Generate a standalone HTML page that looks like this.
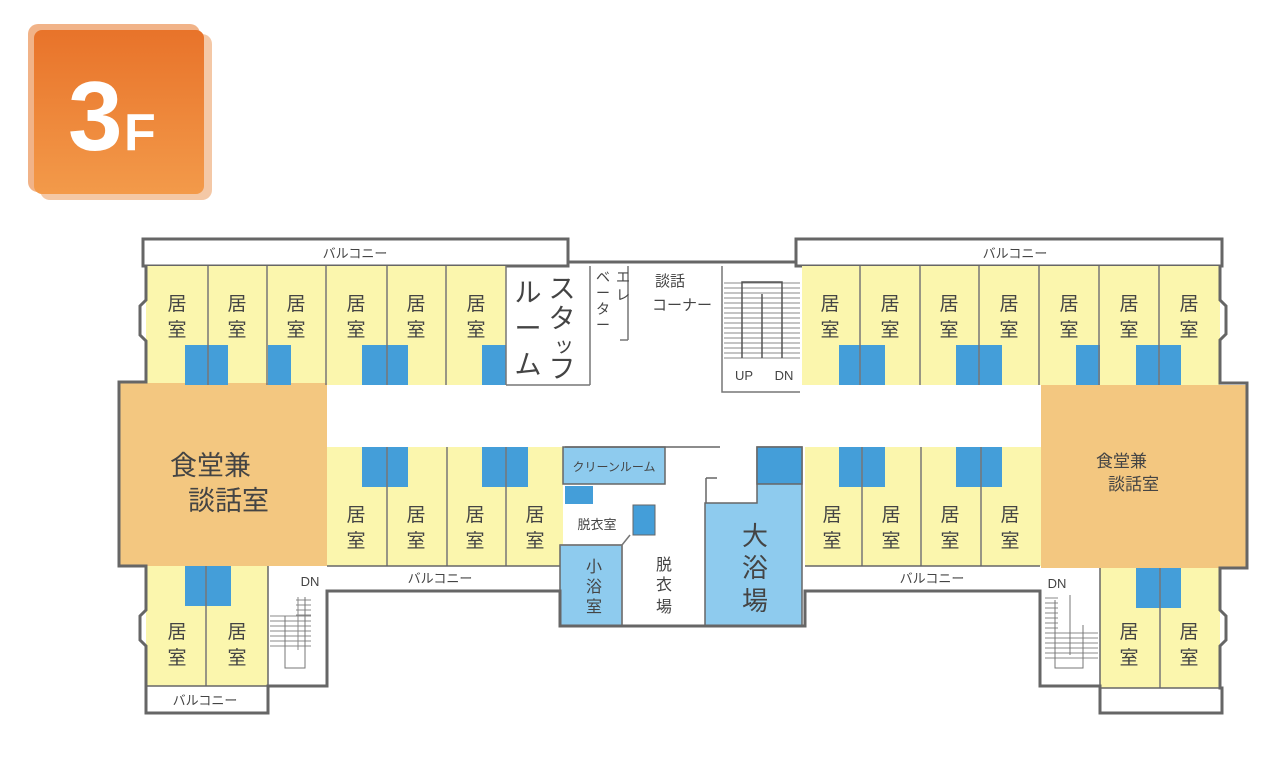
<!DOCTYPE html>
<html><head><meta charset="utf-8"><style>
html,body{margin:0;padding:0;background:#fff;width:1278px;height:768px;overflow:hidden}
svg{display:block}
text{font-family:"Liberation Sans","Noto Sans CJK JP",sans-serif;fill:#444}
</style></head><body>
<svg width="1278" height="768" viewBox="0 0 1278 768">
<defs>
<linearGradient id="og" x1="0" y1="0" x2="0" y2="1"><stop offset="0" stop-color="#e8732a"/><stop offset="1" stop-color="#f39a4a"/></linearGradient>
</defs>
<rect x="28" y="24" width="172" height="168" rx="10" fill="#eea06a" opacity="0.8"/>
<rect x="40" y="34" width="172" height="166" rx="10" fill="#f0b080" opacity="0.7"/>
<rect x="34" y="30" width="170" height="164" rx="8" fill="url(#og)"/>
<text x="68" y="150" font-size="98" font-weight="bold" style="fill:#fff">3</text>
<text x="124" y="150" font-size="52" font-weight="bold" style="fill:#fff">F</text>

<g stroke="#666" stroke-width="1.5">
<rect x="143" y="239" width="425" height="27" fill="#fff" stroke-width="3"/>
<rect x="796" y="239" width="426" height="27" fill="#fff" stroke-width="3"/>
<rect x="146" y="266" width="360" height="119" fill="#fbf6ad" stroke="none"/>
<rect x="802" y="266" width="418" height="119" fill="#fbf6ad" stroke="none"/>
<rect x="119" y="383" width="208" height="183" fill="#f3c780" stroke="none"/>
<rect x="1041" y="385" width="206" height="183" fill="#f3c780" stroke="none"/>
<rect x="327" y="447" width="236" height="119" fill="#fbf6ad" stroke="none"/>
<rect x="805" y="447" width="236" height="119" fill="#fbf6ad" stroke="none"/>
<rect x="146" y="566" width="122" height="120" fill="#fbf6ad" stroke="none"/>
<rect x="1100" y="568" width="120" height="120" fill="#fbf6ad" stroke="none"/>
</g>
<g stroke="#666" stroke-width="1.5">
<rect x="563" y="447" width="102" height="37" fill="#8ecbee"/>
<rect x="565" y="486" width="28" height="18" fill="#449ed9" stroke="none"/>
<rect x="633" y="505" width="22" height="30" fill="#449ed9" stroke="#666" stroke-width="1"/>
<rect x="560" y="545" width="62" height="81" fill="#8ecbee"/>
<path d="M705 503 L757 503 L757 447 L802 447 L802 626 L705 626 Z" fill="#8ecbee"/>
<rect x="757" y="447" width="45" height="37" fill="#449ed9"/>
<path d="M706 478 V503 M706 478 H717" fill="none"/>
<path d="M565 447 H720" fill="none"/>
</g>
<g fill="#449ed9" stroke="none">
<rect x="185" y="345" width="43" height="40"/><rect x="268" y="345" width="23" height="40"/>
<rect x="362" y="345" width="46" height="40"/><rect x="482" y="345" width="24" height="40"/>
<rect x="839" y="345" width="46" height="40"/><rect x="956" y="345" width="46" height="40"/>
<rect x="1076" y="345" width="24" height="40"/><rect x="1136" y="345" width="45" height="40"/>
<rect x="362" y="447" width="46" height="40"/><rect x="482" y="447" width="46" height="40"/>
<rect x="839" y="447" width="46" height="40"/><rect x="956" y="447" width="46" height="40"/>
<rect x="185" y="566" width="46" height="40"/><rect x="1136" y="568" width="45" height="40"/>
</g>
<g stroke="#777" stroke-width="1.5" fill="none">
<path d="M208 266V385 M267 266V385 M326 266V385 M387 266V385 M446 266V385 M506 266V385"/>
<path d="M860 266V385 M920 266V385 M979 266V385 M1039 266V385 M1099 266V385 M1159 266V385"/>
<path d="M387 447V566 M447 447V566 M506 447V566"/>
<path d="M862 447V566 M921 447V566 M981 447V566"/>
<path d="M206 566V686 M1160 568V688"/>
<path d="M590 266V385 M506 385H590 M628 266V340 M620 340H628"/>
<path d="M722 266V392 H800 M722 262 H796"/>
<path d="M622 545V626 M560 545H622 M622 545 L630 535"/>
</g>
<g stroke="#666" stroke-width="3" fill="none">
<path d="M146 266 V300 L140 306 V335 L146 341 V382 H119 V566 H146 V610 L140 616 V640 L146 646 V713 H268 V686 H327 V591 H560 V626 H805 V591 H1040 V686 H1100 V713 H1222 V688 H1220 V646 L1226 640 V616 L1220 610 V568 H1247 V383 H1220 V340 L1226 334 V306 L1220 300 V266"/>
<path d="M568 239 V262 H796"/>
</g>
<g stroke="#666" stroke-width="1.5" fill="none">
<path d="M146 686 H268 M1100 688 H1222"/>
<path d="M327 566 H560 M805 566 H1040"/>
<path d="M268 566 V686 M1100 568 V688"/>
</g>
<g stroke="#888" stroke-width="1" fill="none">
<path d="M724 283H800 M724 288H800 M724 293H800 M724 298H800 M724 303H800 M724 308H800 M724 313H800 M724 318H800 M724 323H800 M724 328H800 M724 333H800 M724 338H800 M724 343H800 M724 348H800 M724 353H800 M724 358H800"/>
<path d="M742 358V282H782V358 M762 294V358" stroke="#555" stroke-width="1.5"/>
<path d="M298 597V650 M270 616H311 M270 621H311 M270 626H311 M270 631H311 M270 636H311 M270 641H311 M270 646H311 M296 600H311 M296 605H311 M296 610H311 M296 615H311"/>
<path d="M285 616V668H305V597" stroke="#777"/>
<path d="M1045 598H1058 M1045 603H1058 M1045 608H1058 M1045 613H1058 M1045 618H1058 M1045 623H1058 M1045 628H1058 M1045 633H1098 M1045 638H1098 M1045 643H1098 M1045 648H1098 M1045 653H1098 M1045 658H1098"/>
<path d="M1070 595V655 M1055 600V668H1083V625" stroke="#777"/>
</g>
<g font-size="13" text-anchor="middle">
<text x="355" y="258">バルコニー</text>
<text x="1015" y="258">バルコニー</text>
<text x="440" y="583">バルコニー</text>
<text x="932" y="583">バルコニー</text>
<text x="205" y="705">バルコニー</text>
<text x="744" y="380">UP</text><text x="784" y="380">DN</text>
<text x="310" y="586">DN</text><text x="1057" y="588">DN</text>
<text x="614" y="471" font-size="12">クリーンルーム</text>
<text x="597" y="529" font-size="13">脱衣室</text>
</g>
<g font-size="19" text-anchor="middle">
<text x="177" y="310">居</text><text x="177" y="336">室</text>
<text x="237" y="310">居</text><text x="237" y="336">室</text>
<text x="296" y="310">居</text><text x="296" y="336">室</text>
<text x="356" y="310">居</text><text x="356" y="336">室</text>
<text x="416" y="310">居</text><text x="416" y="336">室</text>
<text x="476" y="310">居</text><text x="476" y="336">室</text>
<text x="830" y="310">居</text><text x="830" y="336">室</text>
<text x="890" y="310">居</text><text x="890" y="336">室</text>
<text x="949" y="310">居</text><text x="949" y="336">室</text>
<text x="1009" y="310">居</text><text x="1009" y="336">室</text>
<text x="1069" y="310">居</text><text x="1069" y="336">室</text>
<text x="1129" y="310">居</text><text x="1129" y="336">室</text>
<text x="1189" y="310">居</text><text x="1189" y="336">室</text>
<text x="356" y="521">居</text><text x="356" y="547">室</text>
<text x="416" y="521">居</text><text x="416" y="547">室</text>
<text x="475" y="521">居</text><text x="475" y="547">室</text>
<text x="535" y="521">居</text><text x="535" y="547">室</text>
<text x="832" y="521">居</text><text x="832" y="547">室</text>
<text x="891" y="521">居</text><text x="891" y="547">室</text>
<text x="950" y="521">居</text><text x="950" y="547">室</text>
<text x="1010" y="521">居</text><text x="1010" y="547">室</text>
<text x="177" y="638">居</text><text x="177" y="664">室</text>
<text x="237" y="638">居</text><text x="237" y="664">室</text>
<text x="1129" y="638">居</text><text x="1129" y="664">室</text>
<text x="1189" y="638">居</text><text x="1189" y="664">室</text>
<text x="594" y="572" font-size="16">小</text><text x="594" y="592" font-size="16">浴</text><text x="594" y="612" font-size="16">室</text>
<text x="664" y="570" font-size="16">脱</text><text x="664" y="590" font-size="16">衣</text><text x="664" y="612" font-size="16">場</text>
<text x="755" y="545" font-size="26">大</text><text x="755" y="577" font-size="26">浴</text><text x="755" y="610" font-size="26">場</text>
</g>
<g font-size="27">
<text x="170" y="475">食堂兼</text>
<text x="188" y="510">談話室</text>
</g>
<g font-size="17">
<text x="1096" y="467">食堂兼</text>
<text x="1108" y="490">談話室</text>
</g>
<g font-size="27" text-anchor="middle">
<text x="562" y="298">ス</text><text x="562" y="328">タ</text><text x="564" y="352" font-size="20">ッ</text><text x="562" y="378">フ</text>
<text x="528" y="302">ル</text><text x="528" y="338">ー</text><text x="528" y="374">ム</text>
</g>
<g font-size="14" text-anchor="middle">
<text x="623" y="282">エ</text><text x="623" y="300">レ</text>
<text x="603" y="282">ベ</text><text x="603" y="298">ー</text><text x="603" y="314">タ</text><text x="603" y="330">ー</text>
</g>
<text x="655" y="286" font-size="15">談話</text>
<text x="652" y="310" font-size="15">コーナー</text>
</svg>
</body></html>
